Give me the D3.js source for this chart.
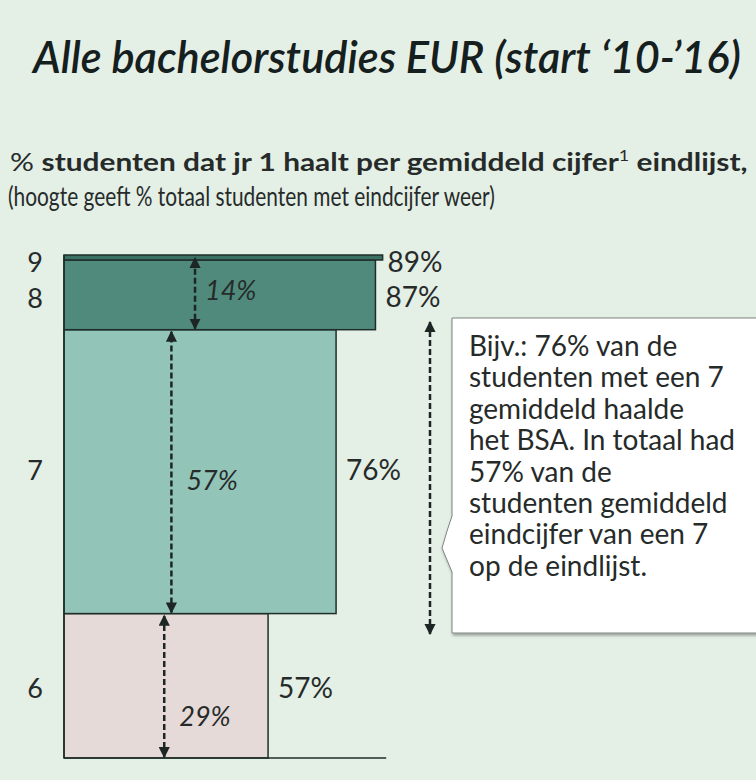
<!DOCTYPE html>
<html>
<head>
<meta charset="utf-8">
<script src="https://cdn.jsdelivr.net/npm/d3@7"></script>
<style>
  body { margin: 0; background: #e4efe6; }
  svg text { font-family: Lato, "Open Sans", sans-serif; fill: #262b2a; }
</style>
</head>
<body>
<svg id="chart" width="756" height="780"></svg>
<script>
// gemiddeld eindcijfer (onder naar boven)
var grades = ["6", "7", "8", "9"]
// % totaal studenten met dat eindcijfer (hoogte)
var shareOfStudents = [29, 57, 14, 1]
// % dat jaar 1 haalt (breedte)
var passRate = [57, 76, 87, 89]
var shareLabels = ["29%", "57%", "14%", ""]
var passLabels = ["57%", "76%", "87%", "89%"]
var barColors = ["#e5dad7", "#93c4b8", "#4f8a7c", "#3b7163"]

var calloutLines = ["Bijv.: 76% van de", "studenten met een 7", "gemiddeld haalde",
  "het BSA. In totaal had", "57% van de", "studenten gemiddeld",
  "eindcijfer van een 7", "op de eindlijst."]

var svg = d3.select("#chart")

var x = d3.scaleLinear().domain([0, 100]).range([64, 422])
var y = d3.scaleLinear().domain([0, d3.sum(shareOfStudents)]).range([758, 255])

// stacked bar data
var cum = 0
var data = grades.map(function(g, i) {
  var d = { grade: g, y0: cum, y1: cum + shareOfStudents[i], pass: passRate[i],
            shareLabel: shareLabels[i], passLabel: passLabels[i], color: barColors[i] }
  cum += shareOfStudents[i]
  return d
})

// squeeze a text horizontally so it spans the given width
function fitWidth(sel, x0, y0, w) {
  var len = sel.node().getComputedTextLength()
  sel.attr("transform", "translate(" + x0 + "," + y0 + ") scale(" + (w / len) + ",1)")
}

// arrowheads
var defs = svg.append("defs")
defs.append("marker").attr("id", "arr").attr("viewBox", "0 0 10 10")
  .attr("refX", 9).attr("refY", 5).attr("markerWidth", 4.5).attr("markerHeight", 4.5)
  .attr("orient", "auto-start-reverse").attr("markerUnits", "strokeWidth")
  .append("path").attr("d", "M0,0 L10,5 L0,10 z").attr("fill", "#1d2624")
var shadow = defs.append("filter").attr("id", "shadow").attr("x", "-10%").attr("y", "-10%").attr("width", "130%").attr("height", "130%")
shadow.append("feDropShadow").attr("dx", 1).attr("dy", 2).attr("stdDeviation", 1.5).attr("flood-color", "#000").attr("flood-opacity", 0.35)

// title
var title = svg.append("text")
  .attr("font-size", 45).attr("font-style", "italic").attr("font-weight", 600)
  .style("fill", "#15201e")
  .text("Alle bachelorstudies EUR (start \u201810-\u201916)")
fitWidth(title, 33, 73, 708)

var sub = svg.append("text").attr("font-size", 25)
sub.append("tspan").text("% ")
sub.append("tspan").attr("font-weight", "bold").text("studenten dat jr 1 haalt per gemiddeld cijfer")
sub.append("tspan").attr("font-size", 15).attr("dy", -10).text("1")
sub.append("tspan").attr("font-weight", "bold").attr("dy", 10).text(" eindlijst,")
fitWidth(sub, 10, 171, 738)

var sub2 = svg.append("text").attr("font-size", 27)
  .text("(hoogte geeft % totaal studenten met eindcijfer weer)")
fitWidth(sub2, 8, 206, 487)

// bars
svg.selectAll("rect.bar").data(data).enter().append("rect")
  .attr("class", "bar")
  .attr("x", x(0))
  .attr("y", function(d) { return y(d.y1) })
  .attr("width", function(d) { return x(d.pass) - x(0) })
  .attr("height", function(d) { return y(d.y0) - y(d.y1) })
  .attr("fill", function(d) { return d.color })
  .attr("stroke", "#1f2e2a").attr("stroke-width", 1.5)

// axes lines
svg.append("line").attr("x1", x(0)).attr("x2", x(0)).attr("y1", y(0)).attr("y2", y(d3.sum(shareOfStudents)))
  .attr("stroke", "#1f2e2a").attr("stroke-width", 1.5)
svg.append("line").attr("x1", x(0)).attr("x2", x(90)).attr("y1", y(0)).attr("y2", y(0))
  .attr("stroke", "#1f2e2a").attr("stroke-width", 1.5)

// grade labels
var gradeY = [688, 470, 298, 262]
svg.selectAll("text.grade").data(data).enter().append("text")
  .attr("class", "grade").attr("x", 35).attr("text-anchor", "middle")
  .attr("y", function(d, i) { return gradeY[i] + 10 })
  .attr("font-size", 27)
  .text(function(d) { return d.grade })

// pass labels
var passLabelY = [688, 470, 297, 262]
svg.selectAll("text.pass").data(data).enter().append("text")
  .attr("class", "pass")
  .attr("x", function(d) { return x(d.pass) + (d.grade === "9" ? 5 : 10) })
  .attr("y", function(d, i) { return passLabelY[i] + 10 })
  .attr("font-size", 28)
  .text(function(d) { return d.passLabel })

// dashed share arrows inside bars
var arrowX = [28, 30, 36.6]
var inner = data.filter(function(d) { return d.shareLabel !== "" })
svg.selectAll("line.share").data(inner).enter().append("line")
  .attr("class", "share")
  .attr("x1", function(d, i) { return x(arrowX[i]) })
  .attr("x2", function(d, i) { return x(arrowX[i]) })
  .attr("y1", function(d) { return y(d.y0) - 1 })
  .attr("y2", function(d) { return y(d.y1) + (d.grade === "8" ? -2 : 2) })
  .attr("stroke", "#1d2624").attr("stroke-width", 2.5).attr("stroke-dasharray", "6,3")
  .attr("marker-start", "url(#arr)").attr("marker-end", "url(#arr)")

var shareLabelY = [716, 480, 290]
svg.selectAll("text.share").data(inner).enter().append("text")
  .attr("class", "share")
  .attr("x", function(d, i) { return x(arrowX[i]) + (i === 2 ? 10 : 15) })
  .attr("y", function(d, i) { return shareLabelY[i] + 10 })
  .attr("font-size", 27).attr("font-style", "italic")
  .text(function(d) { return d.shareLabel })

// right annotation arrow
svg.append("line").attr("x1", 430).attr("x2", 430).attr("y1", 634).attr("y2", 322)
  .attr("stroke", "#1d2624").attr("stroke-width", 2.5).attr("stroke-dasharray", "6,3")
  .attr("marker-start", "url(#arr)").attr("marker-end", "url(#arr)")

// callout box with notch
var bx = 452, by = 318, bw = 330, bh = 315
var callout = "M" + bx + "," + by + " H" + (bx + bw) + " V" + (by + bh) + " H" + bx +
  " V572 Q447,560 442,548 Q447,530 452,516 Z"
svg.append("path").attr("d", callout).attr("fill", "#fff")
  .attr("stroke", "#7d8583").attr("stroke-width", 1).attr("filter", "url(#shadow)")

svg.append("text").attr("font-size", 28)
  .selectAll("tspan").data(calloutLines).enter().append("tspan")
  .attr("x", 469).attr("y", function(d, i) { return 356 + i * 31.4 })
  .text(function(d) { return d })
</script>
</body>
</html>
